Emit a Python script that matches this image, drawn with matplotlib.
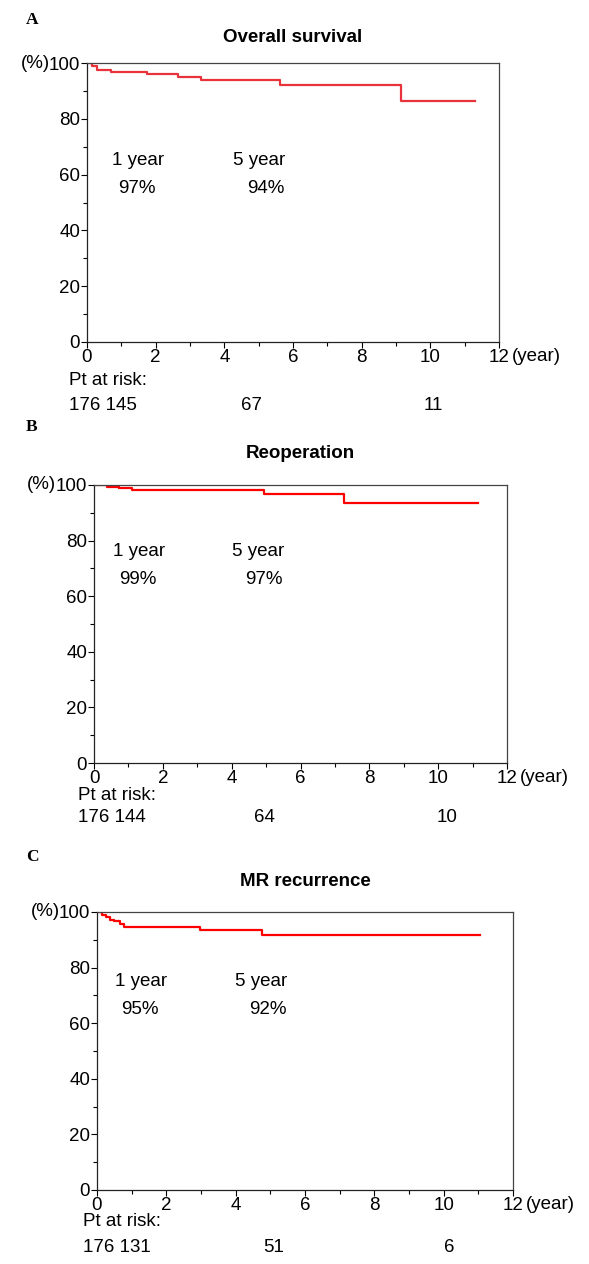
import matplotlib
matplotlib.use("Agg")
import matplotlib.pyplot as plt
import matplotlib.transforms as mtransforms

plt.rcParams["font.family"] = ["Liberation Sans", "DejaVu Sans"]

W, H = 589, 1264

# Overall survival (A)
os_time = [0, 0.14, 0.28, 0.69, 1.75, 2.64, 3.32, 5.62, 9.15, 11.31]
os_surv = [100, 98.9, 97.5, 96.9, 95.9, 94.9, 93.9, 92.1, 86.3, 86.3]

# Freedom from reoperation (B)
reop_time = [0, 0.37, 0.73, 1.09, 4.93, 7.25, 11.17]
reop_surv = [100, 99.4, 98.9, 98.3, 96.8, 93.4, 93.4]

# Freedom from MR recurrence (C)
mr_time = [0, 0.14, 0.27, 0.38, 0.48, 0.65, 0.79, 2.96, 4.75, 11.05]
mr_surv = [100, 99.0, 98.2, 97.3, 96.6, 95.8, 94.6, 93.4, 91.7, 91.7]

titles = ["Overall survival", "Reoperation", "MR recurrence"]
letters = ["A", "B", "C"]
rates = [("97%", "94%"), ("99%", "97%"), ("95%", "92%")]
at_risk = [["176", "145", "67", "11"],
           ["176", "144", "64", "10"],
           ["176", "131", "51", "6"]]
# left edge (in years) of the "176 xxx" group, then the 5 and 10 year counts
risk_x = [[-0.52, 4.48, 9.81],
          [-0.47, 4.64, 9.96],
          [-0.39, 4.79, 10.0]]

FS = 13.5


def panel(fig, box, t, s, color, title, letter, rate, risk, rx, note_xy, head, rows):
    left, right, top, bottom = box
    ax = fig.add_axes([left / W, 1 - bottom / H, (right - left) / W, (bottom - top) / H])
    ax.step(t, s, where="post", color=color, lw=1.6)
    ax.set_xlim(0, 12)
    ax.set_ylim(0, 100)
    ax.set_xticks(range(0, 13, 2))
    ax.set_xticks(range(1, 12, 2), minor=True)
    ax.set_yticks(range(0, 101, 20))
    ax.set_yticks(range(10, 100, 20), minor=True)
    ax.tick_params(which="major", length=4, width=0.8, labelsize=FS, pad=1)
    ax.tick_params(which="minor", length=3, width=0.8)
    for sp in ax.spines.values():
        sp.set_linewidth(0.9)
        sp.set_color("#444444")
    ax.spines["left"].set_color("#222222")
    ax.spines["bottom"].set_color("#222222")

    ax.annotate("(%)", xy=(0, 100), xytext=(-27, 0), textcoords="offset points",
                ha="right", va="center", fontsize=FS)
    ax.annotate("(year)", xy=(12, 0), xytext=(9, -4), textcoords="offset points",
                ha="left", va="top", fontsize=FS)

    nx1, nx5, ny = note_xy
    ax.text(nx1, ny, "1 year", fontsize=FS, ha="left", va="center")
    ax.text(nx1 + 0.17, ny - 10, rate[0], fontsize=FS, ha="left", va="center")
    ax.text(nx5, ny, "5 year", fontsize=FS, ha="left", va="center")
    ax.text(nx5 + 0.4, ny - 10, rate[1], fontsize=FS, ha="left", va="center")

    trans = mtransforms.blended_transform_factory(ax.transData, fig.transFigure)
    pt_off, num_off = rows
    ax.text(rx[0], 1 - (bottom + pt_off) / H, "Pt at risk:", transform=trans,
            fontsize=FS, ha="left", va="center")
    labels = [" ".join(risk[:2])] + risk[2:]
    for x, n in zip(rx, labels):
        ax.text(x, 1 - (bottom + num_off) / H, n, transform=trans,
                fontsize=FS, ha="left", va="center")

    title_off, letter_off = head
    fig.text((left + right) / 2 / W, 1 - (top - title_off) / H, title,
             fontsize=13.5, fontweight="bold", ha="center", va="center")
    fig.text(26 / W, 1 - (top - letter_off) / H, letter, fontsize=12.5, fontweight="bold",
             family="Liberation Serif", ha="left", va="center")
    return ax


def main():
    fig = plt.figure(figsize=(W / 100, H / 100), dpi=100)
    boxes = [(87, 499, 63, 342), (94, 507, 485, 763), (97, 513, 912, 1190)]
    colors = ["#e8323c", "red", "red"]
    series = [(os_time, os_surv), (reop_time, reop_surv), (mr_time, mr_surv)]
    notes = [(0.73, 4.26, 65), (0.55, 4.0, 76), (0.52, 3.98, 75)]
    heads = [(26, 43), (32, 58), (31, 55)]
    rows = [(38, 64), (32, 54), (31, 57)]
    for i in range(3):
        panel(fig, boxes[i], series[i][0], series[i][1], colors[i], titles[i],
              letters[i], rates[i], at_risk[i], risk_x[i], notes[i], heads[i], rows[i])
    fig.savefig("out.png", dpi=100)


if __name__ == "__main__":
    main()
